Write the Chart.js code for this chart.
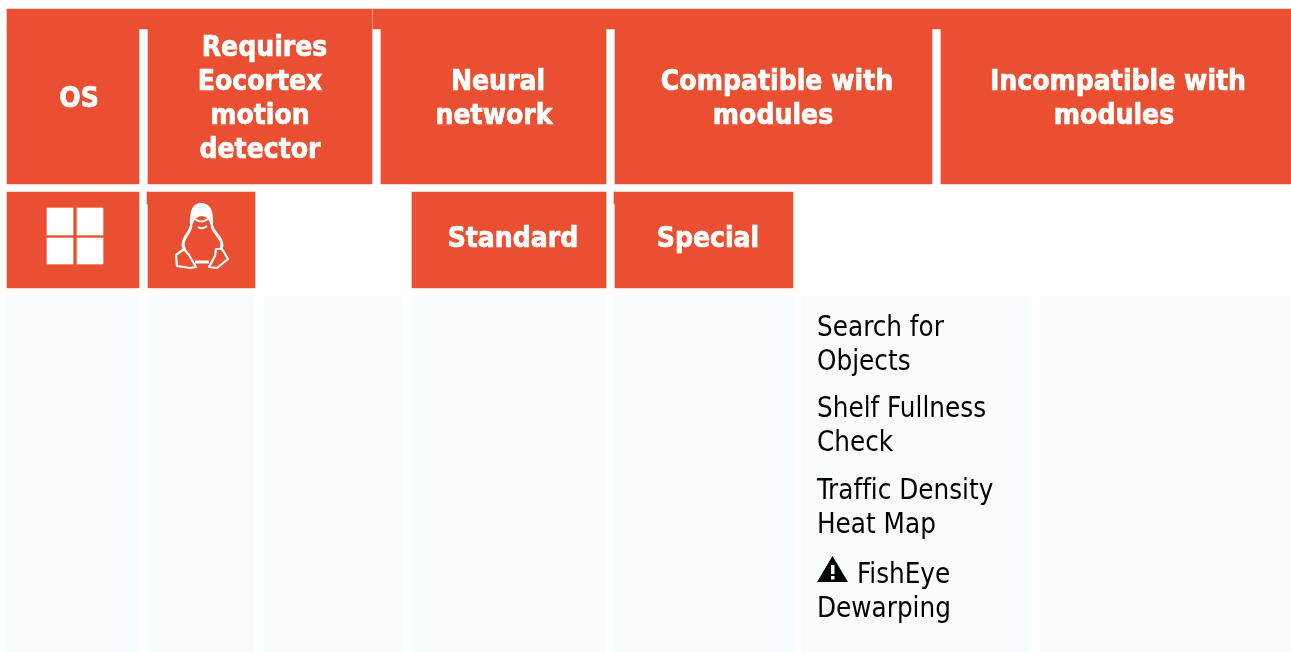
<!DOCTYPE html>
<html>
<head>
<meta charset="utf-8">
<title>Modules table</title>
<script src="https://cdn.jsdelivr.net/npm/chart.js@4"></script>
<style>
  html, body { margin: 0; padding: 0; background: #fff; }
  canvas { display: block; }
</style>
</head>
<body>
<canvas id="myChart" width="1291" height="652"></canvas>
<script>
// table rows: top and bottom edge on the y axis
var rowNames = ['band', 'head', 'sub', 'body'];
var rowTop = [9, 29, 192, 296];
var rowBottom = [29, 184, 288, 652];

// cell spans on the x axis, one list per row
var bandCells = [[7, 372], [373, 1291]];
var headCells = [[7, 139], [148, 372], [381, 606], [615, 932], [941, 1291]];
var subCells = [[7, 139], [148, 255], [412, 606], [615, 793]];
var bodyCells = [[7, 139], [148, 255], [264, 403], [412, 606], [615, 793], [801, 1031], [1040, 1291]];

// header text
var headLabels = [['OS'], ['Requires', 'Eocortex', 'motion', 'detector'], ['Neural', 'network'], ['Compatible with', 'modules'], ['Incompatible with', 'modules']];
var headLabelX = [[79], [264.5, 260, 260, 260], [498, 494], [777, 773], [1118, 1114]];
var subLabels = ['Standard', 'Special'];
var subLabelX = [513, 708];

// compatible modules cell
var compatibleModules = ['Search for', 'Objects', 'Shelf Fullness', 'Check', 'Traffic Density', 'Heat Map', 'FishEye', 'Dewarping'];
var moduleBaseline = [336, 370, 417, 451, 499, 533, 583, 617];
var moduleX = [817, 817, 817, 817, 817, 817, 857, 817];

var orange = '#e94f30';
var pale = '#fafdff';
var boldFont = 'bold 28px "DejaVu Sans Condensed", "DejaVu Sans"';
var textFont = '27.5px "DejaVu Sans Condensed", "DejaVu Sans"';

const rowDataset = (name, cells, color) => {
    var i = rowNames.indexOf(name);
    return {
        label: name,
        data: cells.map(c => ({ x: c, y: (rowTop[i] + rowBottom[i]) / 2 })),
        backgroundColor: color,
        barThickness: rowBottom[i] - rowTop[i],
        borderWidth: 0
    };
};

// white panes of the windows logo and the little notches beside the sub header
const spanDataset = (top, bottom, cells, color) => ({
    data: cells.map(c => ({ x: c, y: (top + bottom) / 2 })),
    backgroundColor: color,
    barThickness: bottom - top,
    borderWidth: 0
});

const drawPenguin = (ctx, x, y) => {
    ctx.save();
    ctx.translate(x, y);
    ctx.filter = 'blur(0.7px)';
    ctx.strokeStyle = '#fff';
    ctx.fillStyle = '#fff';
    ctx.lineWidth = 2;
    ctx.lineJoin = 'round';
    // head
    ctx.beginPath();
    ctx.moveTo(-10, -14);
    ctx.bezierCurveTo(-11, -32, -6, -36, 0, -36);
    ctx.bezierCurveTo(7, -36, 12, -32, 11, -14);
    ctx.bezierCurveTo(9, -22, 6, -25, 1, -25);
    ctx.bezierCurveTo(-4, -25, -8, -22, -10, -14);
    ctx.fill();
    ctx.stroke();
    // beak
    ctx.beginPath();
    ctx.moveTo(-6, -21);
    ctx.quadraticCurveTo(0, -16, 7, -21);
    ctx.moveTo(-3, -13);
    ctx.quadraticCurveTo(1, -10, 6, -14);
    ctx.stroke();
    // body sides
    ctx.lineWidth = 3;
    ctx.beginPath();
    ctx.moveTo(-10, -14);
    ctx.bezierCurveTo(-11, -7, -18, -3, -18, 5);
    ctx.lineTo(-16, 11);
    ctx.moveTo(11, -14);
    ctx.bezierCurveTo(12, -7, 21, -3, 21, 5);
    ctx.lineTo(20, 9);
    ctx.moveTo(-6, 22);
    ctx.lineTo(8, 22);
    ctx.stroke();
    // feet
    ctx.lineWidth = 2.2;
    ctx.beginPath();
    ctx.moveTo(-25, 15);
    ctx.lineTo(-17, 9);
    ctx.lineTo(-12, 15);
    ctx.lineTo(-5, 27);
    ctx.lineTo(-11, 28);
    ctx.lineTo(-24, 26);
    ctx.closePath();
    ctx.moveTo(15, 9);
    ctx.lineTo(21, 9);
    ctx.lineTo(27, 19);
    ctx.lineTo(16, 28);
    ctx.lineTo(8, 27);
    ctx.lineTo(14, 16);
    ctx.closePath();
    ctx.stroke();
    ctx.restore();
};

const drawWarning = (ctx, x, y) => {
    ctx.save();
    ctx.translate(x, y);
    ctx.fillStyle = '#000';
    ctx.beginPath();
    ctx.moveTo(15.5, 0);
    ctx.lineTo(31, 26);
    ctx.lineTo(0, 26);
    ctx.closePath();
    ctx.fill();
    ctx.fillStyle = '#fff';
    ctx.fillRect(14, 9, 3.5, 9);
    ctx.fillRect(14, 20, 3.5, 3.5);
    ctx.restore();
};

// the condensed bold is a bit thin next to the original, a light stroke thickens it
const heavyText = (ctx, text, x, y) => {
    ctx.fillText(text, x, y);
    ctx.strokeText(text, x, y);
};

var tableText = {
    id: 'tableText',
    afterDatasetsDraw: chart => {
        var ctx = chart.ctx;
        var sx = chart.scales.x;
        var sy = chart.scales.y;
        ctx.save();
        ctx.textBaseline = 'alphabetic';
        ctx.letterSpacing = '0.01px'; // keeps the ffi in Traffic from turning into a ligature
        ctx.fillStyle = '#fff';
        ctx.strokeStyle = '#fff';
        ctx.lineWidth = 0.7;
        ctx.font = boldFont;
        ctx.textAlign = 'center';
        headLabels.forEach((lines, c) => {
            lines.forEach((line, i) => {
                var base = 107 + (i - (lines.length - 1) / 2) * 34;
                heavyText(ctx, line, sx.getPixelForValue(headLabelX[c][i]), sy.getPixelForValue(base));
            });
        });
        subLabels.forEach((label, i) => {
            heavyText(ctx, label, sx.getPixelForValue(subLabelX[i]), sy.getPixelForValue(247));
        });
        ctx.fillStyle = '#000';
        ctx.font = textFont;
        ctx.textAlign = 'left';
        compatibleModules.forEach((line, i) => {
            ctx.fillText(line, sx.getPixelForValue(moduleX[i]), sy.getPixelForValue(moduleBaseline[i]));
        });
        ctx.restore();
        drawPenguin(ctx, sx.getPixelForValue(201), sy.getPixelForValue(240));
        drawWarning(ctx, sx.getPixelForValue(817), sy.getPixelForValue(556));
    }
};

var ctx = document.getElementById('myChart').getContext('2d');
var chart = new Chart(ctx, {
    type: 'bar',
    data: {
        // chart.js paints the first dataset last, so the logo panes come first
        datasets: [
            spanDataset(208, 235, [[47, 73], [77, 103]], '#fff'),
            spanDataset(238, 264, [[47, 73], [77, 103]], '#fff'),
            spanDataset(192, 204, [[147, 148], [614, 615]], orange),
            rowDataset('band', bandCells, orange),
            rowDataset('head', headCells, orange),
            rowDataset('sub', subCells, orange),
            rowDataset('body', bodyCells, pale)
        ]
    },
    options: {
        indexAxis: 'y',
        responsive: false,
        animation: false,
        layout: { padding: 0 },
        datasets: { bar: { grouped: false } },
        plugins: {
            legend: { display: false },
            tooltip: { enabled: false },
            title: { display: false }
        },
        scales: {
            x: { type: 'linear', min: 0, max: 1291, display: false },
            y: { type: 'linear', min: 0, max: 652, reverse: true, offset: false, display: false }
        }
    },
    plugins: [tableText]
});
</script>
</body>
</html>
